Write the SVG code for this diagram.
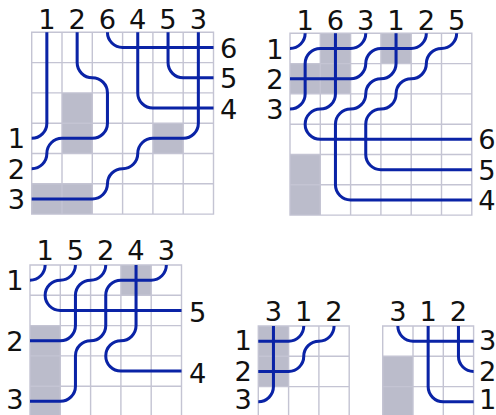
<svg xmlns="http://www.w3.org/2000/svg" width="496" height="415" viewBox="0 0 496 415">
<defs>
<style>
.bg{fill:#ffffff}
.cell{fill:none;stroke:#c4c4d3;stroke-width:1.4}
.shade{fill:#bbbccb}
.w{fill:none;stroke:#0a23a6;stroke-width:3;stroke-linecap:butt}
text{font-family:"DejaVu Sans","Liberation Sans",sans-serif;font-size:27px;fill:#111111;text-anchor:middle}
</style>
</defs>
<rect class="bg" x="0" y="0" width="496" height="415"/>

<g id="puzzle1" transform="translate(31.7 32.3) scale(1.01)">
<rect class="bg" x="0" y="0" width="180" height="180"/>
<rect class="shade" x="30" y="60" width="30" height="60"/>
<rect class="shade" x="120" y="90" width="30" height="30"/>
<rect class="shade" x="0" y="150" width="60" height="30"/>
<path class="cell" d="M0,0H180V180H0Z M30,0V180 M60,0V180 M90,0V180 M120,0V180 M150,0V180 M0,30H180 M0,60H180 M0,90H180 M0,120H180 M0,150H180"/>
<g id="p1-wires">
<path class="w" d="M15,0V90A15,15 0 0 1 0,105"/>
<path class="w" d="M45,0V30A15,15 0 0 0 60,45A15,15 0 0 1 75,60V90A15,15 0 0 1 60,105H30A15,15 0 0 0 15,120A15,15 0 0 1 0,135"/>
<path class="w" d="M165,0V90A15,15 0 0 1 150,105H120A15,15 0 0 0 105,120A15,15 0 0 1 90,135A15,15 0 0 0 75,150A15,15 0 0 1 60,165H0"/>
<path class="w" d="M75,0A15,15 0 0 0 90,15H180"/>
<path class="w" d="M105,0V60A15,15 0 0 0 120,75H180"/>
<path class="w" d="M135,0V30A15,15 0 0 0 150,45H180"/>
</g>
<g id="p1-labels">
<text x="15" y="-3">1</text><text x="45" y="-3">2</text><text x="75" y="-3">6</text><text x="105" y="-3">4</text><text x="135" y="-3">5</text><text x="165" y="-3">3</text>
<text x="-15" y="115">1</text><text x="-15" y="145">2</text><text x="-15" y="175">3</text>
<text x="195" y="25.5">6</text><text x="195" y="55.5">5</text><text x="195" y="85.5">4</text>
</g>
</g>

<g id="puzzle2" transform="translate(290 33.3) scale(1.01)">
<rect class="bg" x="0" y="0" width="180" height="180"/>
<rect class="shade" x="30" y="0" width="30" height="60"/>
<rect class="shade" x="0" y="30" width="30" height="30"/>
<rect class="shade" x="90" y="0" width="30" height="30"/>
<rect class="shade" x="0" y="120" width="30" height="60"/>
<path class="cell" d="M0,0H180V180H0Z M30,0V180 M60,0V180 M90,0V180 M120,0V180 M150,0V180 M0,30H180 M0,60H180 M0,90H180 M0,120H180 M0,150H180"/>
<g id="p2-wires">
<path class="w" d="M15,0A15,15 0 0 1 0,15"/>
<path class="w" d="M45,0V60A15,15 0 0 1 30,75A15,15 0 0 0 15,90A15,15 0 0 0 30,105H180"/>
<path class="w" d="M75,0A15,15 0 0 1 60,15H30A15,15 0 0 0 15,30V60A15,15 0 0 1 0,75"/>
<path class="w" d="M105,0V30A15,15 0 0 1 90,45A15,15 0 0 0 75,60A15,15 0 0 1 60,75A15,15 0 0 0 45,90V150A15,15 0 0 0 60,165H180"/>
<path class="w" d="M135,0A15,15 0 0 1 120,15H90A15,15 0 0 0 75,30A15,15 0 0 1 60,45H0"/>
<path class="w" d="M165,0A15,15 0 0 1 150,15A15,15 0 0 0 135,30A15,15 0 0 1 120,45A15,15 0 0 0 105,60A15,15 0 0 1 90,75A15,15 0 0 0 75,90V120A15,15 0 0 0 90,135H180"/>
</g>
<g id="p2-labels">
<text x="15" y="-3.5">1</text><text x="45" y="-3.5">6</text><text x="75" y="-3.5">3</text><text x="105" y="-3.5">1</text><text x="135" y="-3.5">2</text><text x="165" y="-3.5">5</text>
<text x="-15" y="25">1</text><text x="-15" y="55">2</text><text x="-15" y="85">3</text>
<text x="195" y="115">6</text><text x="195" y="145">5</text><text x="195" y="175">4</text>
</g>
</g>

<g id="puzzle3" transform="translate(30 265) scale(1.01)">
<rect class="bg" x="0" y="0" width="150" height="150"/>
<rect class="shade" x="90" y="0" width="30" height="30"/>
<rect class="shade" x="0" y="60" width="30" height="90"/>
<path class="cell" d="M0,0H150V150H0Z M30,0V150 M60,0V150 M90,0V150 M120,0V150 M0,30H150 M0,60H150 M0,90H150 M0,120H150"/>
<g id="p3-wires">
<path class="w" d="M15,0A15,15 0 0 1 0,15"/>
<path class="w" d="M45,0A15,15 0 0 1 30,15A15,15 0 0 0 15,30A15,15 0 0 0 30,45H150"/>
<path class="w" d="M75,0A15,15 0 0 1 60,15A15,15 0 0 0 45,30V60A15,15 0 0 1 30,75H0"/>
<path class="w" d="M105,0V60A15,15 0 0 1 90,75A15,15 0 0 0 75,90A15,15 0 0 0 90,105H150"/>
<path class="w" d="M135,0A15,15 0 0 1 120,15H90A15,15 0 0 0 75,30V60A15,15 0 0 1 60,75A15,15 0 0 0 45,90V120A15,15 0 0 1 30,135H0"/>
</g>
<g id="p3-labels">
<text x="15" y="-5">1</text><text x="45" y="-5">5</text><text x="75" y="-5">2</text><text x="105" y="-5">4</text><text x="135" y="-5">3</text>
<text x="-15" y="25">1</text><text x="-15" y="85">2</text><text x="-15" y="142.5">3</text>
<text x="166" y="56.5">5</text><text x="166" y="116.5">4</text>
</g>
</g>

<g id="puzzle4" transform="translate(258.3 326) scale(1.01)">
<rect class="bg" x="0" y="0" width="90" height="90"/>
<rect class="shade" x="0" y="0" width="30" height="60"/>
<path class="cell" d="M0,0H90V90H0Z M30,0V90 M60,0V90 M0,30H90 M0,60H90"/>
<g id="p4-wires">
<path class="w" d="M15,0V60A15,15 0 0 1 0,75"/>
<path class="w" d="M45,0A15,15 0 0 1 30,15H0"/>
<path class="w" d="M75,0A15,15 0 0 1 60,15A15,15 0 0 0 45,30A15,15 0 0 1 30,45H0"/>
</g>
<g id="p4-labels">
<text x="15" y="-5">3</text><text x="45" y="-5">1</text><text x="75" y="-5">2</text>
<text x="-15" y="24">1</text><text x="-15" y="54">2</text><text x="-15" y="82.5">3</text>
</g>
</g>

<g id="puzzle5" transform="translate(382.7 326) scale(1.01)">
<rect class="bg" x="0" y="0" width="90" height="90"/>
<rect class="shade" x="0" y="30" width="30" height="60"/>
<path class="cell" d="M0,0H90V90H0Z M30,0V90 M60,0V90 M0,30H90 M0,60H90"/>
<g id="p5-wires">
<path class="w" d="M15,0A15,15 0 0 0 30,15H90"/>
<path class="w" d="M45,0V60A15,15 0 0 0 60,75H90"/>
<path class="w" d="M75,0V30A15,15 0 0 0 90,45"/>
</g>
<g id="p5-labels">
<text x="15" y="-5">3</text><text x="45" y="-5">1</text><text x="75" y="-5">2</text>
<text x="104" y="24">3</text><text x="104" y="54">2</text><text x="104" y="82.5">1</text>
</g>
</g>
</svg>
